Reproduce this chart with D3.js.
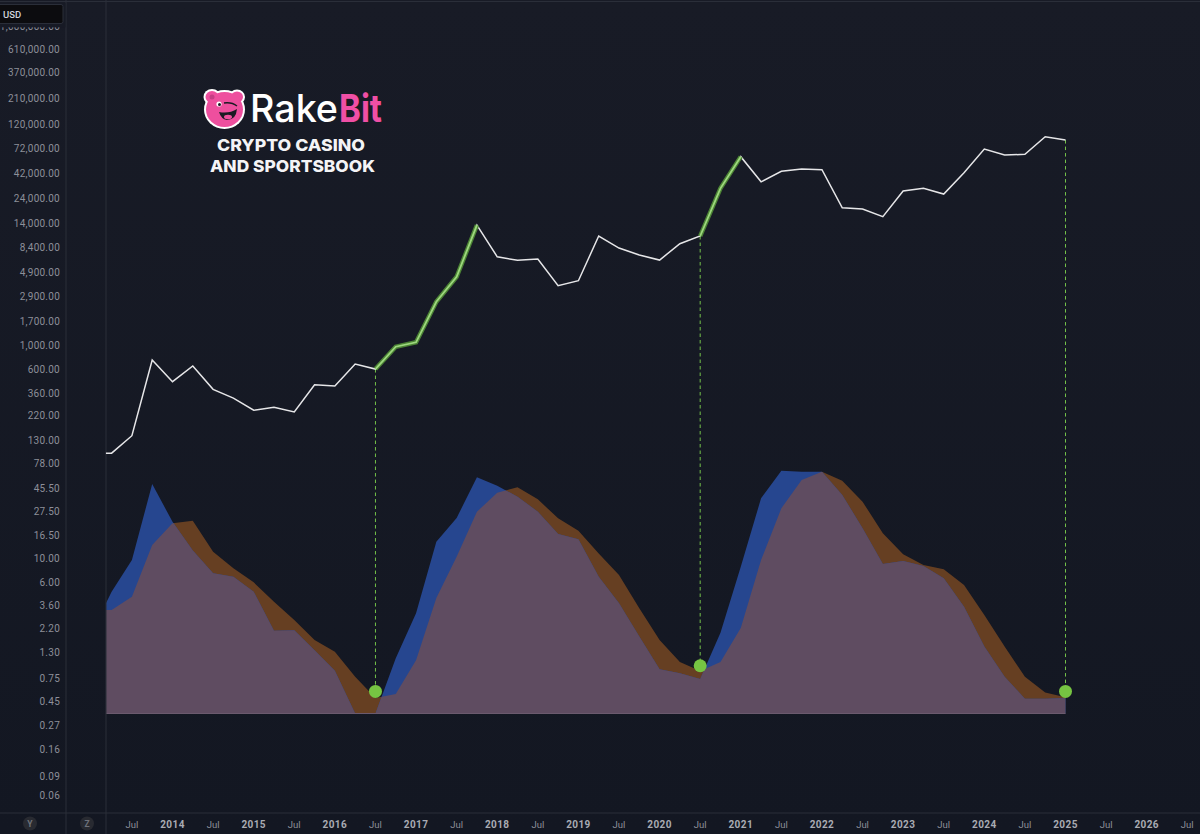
<!DOCTYPE html>
<html><head><meta charset="utf-8">
<script src="https://cdnjs.cloudflare.com/ajax/libs/d3/7.8.5/d3.min.js"></script>
<style>html,body{margin:0;background:#151924}svg{display:block}text{font-family:Roboto,"Liberation Sans",sans-serif}</style>
</head><body><svg id="c" width="1200" height="834"></svg>
<script>
// Quarter positions as decimal years
const quarters = [2013.18,2013.25,2013.5,2013.75,
 2014,2014.25,2014.5,2014.75,2015,2015.25,2015.5,2015.75,
 2016,2016.25,2016.5,2016.75,2017,2017.25,2017.5,2017.75,
 2018,2018.25,2018.5,2018.75,2019,2019.25,2019.5,2019.75,
 2020,2020.25,2020.5,2020.75,2021,2021.25,2021.5,2021.75,
 2022,2022.25,2022.5,2022.75,2023,2023.25,2023.5,2023.75,
 2024,2024.25,2024.5,2024.75,2025];
const price = [98,98,143,736,
 460,646,390,323,248,264,239,431,
 419,675,605,981,1079,2596,4457,13650,
 6871,6368,6546,3673,4093,10765,8300,7130,
 6400,9120,10770,30200,60000,34800,43650,45900,
 45200,19860,19320,16350,28500,30200,26700,42400,
 70800,62100,63100,92300,85900];
const fastSeries = [3.8,4.89,9.7,50.2,
 22.2,11.9,7.28,6.76,4.89,2.1,2.12,1.38,
 .883,.35,.35,1.16,3.06,14.4,24.1,58.1,
 48.4,38.2,27.6,17,15.2,6.76,3.8,1.85,
 .912,.836,.738,2.01,8.39,36.9,67,65.6,
 65.6,39.6,19.3,8.9,9.49,8.51,6.53,3.53,
 1.49,.776,.482,.482,.49];
const slowSeries = [3.29,3.29,4.39,13.4,
 21.5,22.7,11.6,8.11,5.98,3.94,2.65,1.72,
 1.33,.776,.49,.533,1.11,4.26,10.4,27.6,
 41.6,46.8,36.1,23.9,18.3,11.2,7.01,3.41,
 1.72,1.07,.879,1.07,2.23,9.7,29.7,54.8,
 65.6,54,34.3,17.3,11,8.71,7.93,5.65,
 2.95,1.49,.776,.553,.497];
const areaFloor = 0.35;
const bullRuns = [[2016.5,2017.75],[2020.5,2021]];
const lowMarkers = [[2016.5,.564,605],[2020.5,.984,10770],[2025,.564,85900]];
const yTicks = [1000000,610000,370000,210000,120000,72000,42000,24000,14000,8400,4900,2900,1700,1000,600,360,220,130,78,45.5,27.5,16.5,10,6,3.6,2.2,1.3,.75,.45,.27,.16,.09,.06];
const yearTicks = [2014,2015,2016,2017,2018,2019,2020,2021,2022,2023,2024,2025,2026];
const julTicks = [2013.5,2014.5,2015.5,2016.5,2017.5,2018.5,2019.5,2020.5,2021.5,2022.5,2023.5,2024.5,2025.5,2026.5];

const svg = d3.select('#c');
const x = d3.scaleLinear().domain([2014,2025]).range([172.5,1065.5]);
const y = d3.scaleLog().domain([.06,610000]).range([795,49.5]);
const rows = quarters.map((q,i)=>({q,p:price[i],a:fastSeries[i],b:slowSeries[i]}));

const defs = svg.append('defs');
const bg = defs.append('linearGradient').attr('id','bg').attr('x1',0).attr('x2',0).attr('y1',0).attr('y2',1);
bg.append('stop').attr('offset',0).attr('stop-color','#181b26');
bg.append('stop').attr('offset',1).attr('stop-color','#131722');
svg.append('rect').attr('width',1200).attr('height',834).attr('fill','url(#bg)');

const areaOf = k => d3.area().x(d=>x(d.q)).y0(y(areaFloor)).y1(d=>y(d[k]))(rows);
defs.append('clipPath').attr('id','clipA').append('path').attr('d',areaOf('a'));
svg.append('path').attr('d',areaOf('b')).attr('fill','#663f22');
svg.append('path').attr('d',areaOf('a')).attr('fill','#26468f');
svg.append('path').attr('d',areaOf('b')).attr('fill','#5f4c61').attr('clip-path','url(#clipA)');
svg.append('line').attr('x1',x(quarters[0])).attr('x2',x(2025)).attr('y1',y(areaFloor)).attr('y2',y(areaFloor)).attr('stroke','#6b5a6e').attr('stroke-width',1);

// frame lines
const frame = '#2a2e39';
[[66,0,66,834],[106,0,106,834],[0,813,1200,813],[0,1.5,1200,1.5]].forEach(l=>
 svg.append('line').attr('x1',l[0]).attr('y1',l[1]).attr('x2',l[2]).attr('y2',l[3]).attr('stroke',frame).attr('stroke-width',1));

// dashed drop lines
lowMarkers.forEach(m=>{
 svg.append('line').attr('x1',x(m[0])).attr('x2',x(m[0])).attr('y1',y(m[2])).attr('y2',y(m[1]))
  .attr('stroke','#74c24a').attr('stroke-width',1).attr('stroke-dasharray','3.5 3');
});

// price line
const line = d3.line().x(d=>x(d.q)).y(d=>y(d.p));
svg.append('path').attr('d',line(rows)).attr('fill','none').attr('stroke','#e6e6e8').attr('stroke-width',1.5).attr('stroke-linejoin','miter');
bullRuns.forEach(r=>{
 const seg = rows.filter(d=>d.q>=r[0]&&d.q<=r[1]);
 svg.append('path').attr('d',line(seg)).attr('fill','none').attr('stroke','#4c8335').attr('stroke-width',4.5);
 svg.append('path').attr('d',line(seg)).attr('fill','none').attr('stroke','#9dd87e').attr('stroke-width',1.8);
});

// markers
svg.selectAll('circle.m').data(lowMarkers).join('circle').attr('class','m')
 .attr('cx',d=>x(d[0])).attr('cy',d=>y(d[1])).attr('r',6.5).attr('fill','#76c442');

// y axis labels
svg.append('g').selectAll('text').data(yTicks).join('text')
 .attr('x',60).attr('y',d=>y(d)).attr('dy','0.35em').attr('text-anchor','end')
 .attr('font-size',10).attr('fill','#8d8f99').attr('letter-spacing',0.25)
 .text(d=>d3.format(',.2f')(d));

// USD box
svg.append('rect').attr('x',0).attr('y',3).attr('width',65.5).attr('height',24.3).attr('fill','#171a25');
svg.append('rect').attr('x',-4).attr('y',4.5).attr('width',67).attr('height',19).attr('rx',2)
 .attr('fill','#0c0c0f').attr('stroke',frame);
svg.append('text').attr('x',3).attr('y',17.5).attr('font-size',9.5).attr('font-weight',500).attr('fill','#d1d4dc').text('USD');

// x axis labels
svg.append('g').selectAll('text').data(julTicks).join('text')
 .attr('x',d=>x(d)).attr('y',828).attr('text-anchor','middle').attr('font-size',9.5).attr('fill','#8d8f99').text('Jul');
svg.append('g').selectAll('text').data(yearTicks).join('text')
 .attr('x',d=>x(d)).attr('y',828).attr('text-anchor','middle').attr('font-size',10).attr('font-weight',700)
 .attr('letter-spacing',0.4).attr('fill','#a9abb3').text(d=>d);

// Y / Z buttons
[['Y',30],['Z',87]].forEach(b=>{
 svg.append('circle').attr('cx',b[1]).attr('cy',823.5).attr('r',7).attr('fill','#282a31');
 svg.append('text').attr('x',b[1]).attr('y',826.5).attr('text-anchor','middle').attr('font-size',8.5).attr('font-weight',700).attr('fill','#6f727b').text(b[0]);
});

// logo
const logo = svg.append('g');
const bear = logo.append('g');
const white='#ffffff', pink='#ee4f9e', dark='#1a1a22';
bear.append('ellipse').attr('cx',212).attr('cy',97).attr('rx',8.5).attr('ry',8).attr('fill',white);
bear.append('ellipse').attr('cx',237).attr('cy',97).attr('rx',8).attr('ry',7.5).attr('fill',white);
bear.append('ellipse').attr('cx',224.5).attr('cy',109.5).attr('rx',20.5).attr('ry',19.5).attr('fill',white);
bear.append('ellipse').attr('cx',212).attr('cy',97).attr('rx',6.5).attr('ry',6).attr('fill',pink);
bear.append('ellipse').attr('cx',237).attr('cy',97).attr('rx',6).attr('ry',5.5).attr('fill',pink);
bear.append('ellipse').attr('cx',224.5).attr('cy',109.5).attr('rx',18.5).attr('ry',17.5).attr('fill',pink);
bear.append('circle').attr('cx',212).attr('cy',97).attr('r',2.5).attr('fill','#c63f85');
bear.append('circle').attr('cx',219).attr('cy',104).attr('r',2.6).attr('fill',white);
bear.append('circle').attr('cx',219.5).attr('cy',104.5).attr('r',1.5).attr('fill',dark);
bear.append('path').attr('d','M224 103 Q232 102 237 106').attr('fill','none').attr('stroke',dark).attr('stroke-width',1.4);
bear.append('path').attr('d','M219 112 Q229 114 237 109 Q236 120 227 120 Q221 119 219 112Z').attr('fill',dark);
bear.append('ellipse').attr('cx',228).attr('cy',117).attr('rx',4).attr('ry',2.2).attr('fill',pink);
logo.append('text').attr('x',250).attr('y',122).attr('font-size',38).attr('font-weight',500).attr('fill',white).attr('textLength',88).attr('lengthAdjust','spacingAndGlyphs').style('font-family','Inter,Roboto').text('Rake');
logo.append('text').attr('x',339).attr('y',122).attr('font-size',38).attr('font-weight',700).attr('fill','#f04fa5').attr('textLength',43).attr('lengthAdjust','spacingAndGlyphs').style('font-family','Inter,Roboto').text('Bit');
[['CRYPTO CASINO',291,151,148],['AND SPORTSBOOK',292.5,171.5,165]].forEach(t=>
 logo.append('text').attr('x',t[1]).attr('y',t[2]).attr('text-anchor','middle').attr('font-size',16.5).attr('font-weight',800).attr('fill','#f4f4f6').attr('textLength',t[3]).attr('lengthAdjust','spacingAndGlyphs').style('font-family','Inter,Roboto').text(t[0]));
</script></body></html>
